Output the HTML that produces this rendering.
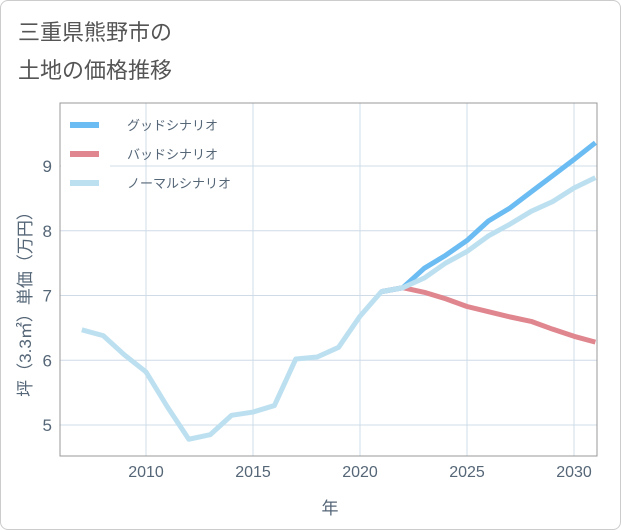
<!DOCTYPE html>
<html><head><meta charset="utf-8"><style>
body{margin:0;background:#fff;}
#card{position:absolute;left:0;top:0;width:619px;height:528px;border:1px solid #ccc;border-radius:8px;background:#fff;font-family:"Liberation Sans","Noto Sans CJK JP",sans-serif;}
</style></head><body>
<div id="card">
<svg id="chart" width="621" height="530" style="position:absolute;left:-1px;top:-1px"></svg>
</div>
<script>
const years=[2007,2008,2009,2010,2011,2012,2013,2014,2015,2016,2017,2018,2019,2020,2021,2022,2023,2024,2025,2026,2027,2028,2029,2030,2031];
const normal=[6.47,6.38,6.08,5.82,5.28,4.78,4.85,5.15,5.2,5.3,6.02,6.05,6.2,6.68,7.06,7.12,7.27,7.5,7.68,7.92,8.1,8.3,8.45,8.66,8.82];
const goodYears=[2021,2022,2023,2024,2025,2026,2027,2028,2029,2030,2031];
const good=[7.06,7.12,7.42,7.62,7.85,8.15,8.35,8.6,8.85,9.1,9.36];
const bad=[7.06,7.12,7.05,6.95,6.83,6.75,6.67,6.6,6.48,6.37,6.28];
const xTicks=[2010,2015,2020,2025,2030];
const yTicks=[5,6,7,8,9];
const NS='http://www.w3.org/2000/svg';
const svg=document.getElementById('chart');
const L=60,R=597,T=103,B=456;
const x=v=>146+(v-2010)*21.4;
const y=v=>425-(v-5)*64.75;
function mk(t,a,p){const e=document.createElementNS(NS,t);for(const k in a)e.setAttribute(k,a[k]);(p||svg).appendChild(e);return e;}
let e;
e=mk('text',{x:18,y:40,'font-size':22,fill:'#555'});e.textContent='三重県熊野市の';


e=mk('text',{x:18,y:78,'font-size':22,fill:'#555'});e.textContent='土地の価格推移';


xTicks.forEach(t=>{e=mk('line',{x1:x(t),x2:x(t),y1:T,y2:B,stroke:'#cfdce8'});


e=mk('text',{x:x(t),y:477,'text-anchor':'middle','font-size':16,fill:'#556677'});e.textContent=t;

});
yTicks.forEach(t=>{e=mk('line',{x1:L,x2:R,y1:y(t),y2:y(t),stroke:'#cfdce8'});


e=mk('text',{x:52,y:y(t)+6,'text-anchor':'end','font-size':17,fill:'#556677'});e.textContent=t;

});
e=mk('rect',{x:L,y:T,width:R-L,height:B-T,fill:'none',stroke:'#999'});


e=mk('text',{x:330,y:514,'text-anchor':'middle','font-size':17,fill:'#556677'});e.textContent='年';


e=mk('text',{x:0,y:0,'text-anchor':'middle','font-size':17,fill:'#556677',transform:'translate(31,300) rotate(-90)'});e.textContent='坪（3.3㎡）単価（万円）';


const clip=mk('clipPath',{id:'c'});mk('rect',{x:L,y:T,width:R-L,height:B-T},clip);
function line(xs,vs,col,name){const d=xs.map((v,i)=>(i?'L':'M')+x(v)+','+y(vs[i])).join('');
e=mk('path',{d:d,fill:'none',stroke:col,'stroke-width':5,'stroke-linejoin':'round','clip-path':'url(#c)'});

}
line(goodYears,bad,'#e0868e','bad-scenario-line');
line(goodYears,good,'#6bbcf2','good-scenario-line');
line(years,normal,'#bde0f0','normal-scenario-line');
e=mk('rect',{x:61,y:110,width:49,height:90,fill:'#fff'});


[['グッドシナリオ','#6bbcf2'],['バッドシナリオ','#e0868e'],['ノーマルシナリオ','#bde0f0']].forEach((s,i)=>{const yy=125+i*29;
e=mk('line',{x1:70,x2:99,y1:yy,y2:yy,stroke:s[1],'stroke-width':6});


e=mk('text',{x:127,y:yy+5,'font-size':13,fill:'#556677'});e.textContent=s[0];

});
</script>
</body></html>
